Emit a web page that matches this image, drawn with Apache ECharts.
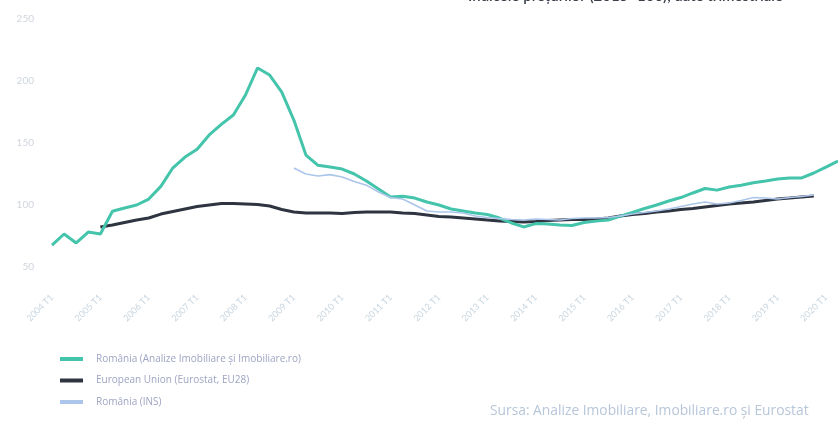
<!DOCTYPE html>
<html>
<head>
<meta charset="utf-8">
<script src="https://cdn.jsdelivr.net/npm/echarts@6/dist/echarts.min.js"></script>
<style>
html,body{margin:0;padding:0;background:#fff;}
#chart{width:838px;height:421px;}
</style>
</head>
<body>
<div id="chart"></div>
<script>
// Quarterly categories 2004 T1 .. 2020 T2
const years = [];
for (let y = 2004; y <= 2020; y++) years.push(y);
const categories = [];
years.forEach(y => { ['T1','T2','T3','T4'].forEach(q => categories.push(y + ' ' + q)); });
categories.length = 66;

const yTicks = [50, 100, 150, 200, 250];

const romaniaAI = [67.7,76.6,69.4,78.2,76.6,95,97.6,100,104.8,115,130,138.7,145,156.5,165,172.6,
  188.7,210.5,204.8,191,168.5,140.3,132,130.6,129,125,119.4,113,106.5,107,105.6,102.4,100,96.8,95.2,
  93.5,92.3,89.5,85.5,82.3,85,84.7,83.9,83.5,85.9,87,87.9,91,94,97.2,100,103.2,106,109.7,113.3,112,
  114.5,116,118,119.4,121,121.8,121.8,125.8,130.6,135.5];

const euValues = [null,null,null,null,82.3,83.9,85.9,87.9,89.5,92.7,94.8,96.8,98.8,100,101.2,101.2,
  100.8,100.4,99.2,96.4,94.4,93.5,93.5,93.5,93.1,94,94.4,94.4,94.4,93.5,93.1,91.9,90.7,90.3,89.5,
  88.7,87.9,87.1,86.7,86.3,86.7,87.5,87.9,88.3,88.3,88.7,89.5,91.1,92.3,93.1,94.4,95.2,96.4,97.2,
  98.4,99.6,100.8,101.6,102.4,103.6,104.8,105.6,106.5,107.3,null,null];

const romaniaINS = [null,null,null,null,null,null,null,null,null,null,null,null,null,null,null,null,
  null,null,null,null,129.8,125,123.4,124.5,122.6,119,116,110.5,106,104.8,100,95.2,94.4,94.4,93.5,
  91.1,89.9,89.1,88.3,87.9,88.7,88.3,87.9,89.1,89.5,89.5,89.9,91.1,92.7,94,95.2,96.8,98.8,100.8,
  102.4,100.8,101.6,103.6,106,105.6,104.8,106,106.9,108.1,null,null];

const seriesNames = ['România (Analize Imobiliare și Imobiliare.ro)', 'European Union (Eurostat, EU28)', 'România (INS)'];

const chart = echarts.init(document.getElementById('chart'));
chart.setOption({
  animation: false,
  backgroundColor: '#ffffff',
  textStyle: { fontFamily: 'Lato, "Open Sans", sans-serif' },
  title: {
    text: 'Indicele prețurilor (2015=100), date trimestriale',
    left: 463, top: -16,
    textStyle: { fontSize: 15, fontWeight: 600, color: '#3a3f4a', fontFamily: 'Lato, sans-serif' }
  },
  grid: { left: 52, top: 19, width: 790, height: 248, containLabel: false },
  xAxis: {
    type: 'category',
    data: categories,
    boundaryGap: false,
    axisLine: { show: false },
    axisTick: { show: false },
    splitLine: { show: false },
    axisLabel: { interval: 3, rotate: 45, margin: 29, fontSize: 9, color: '#c9d6e0' }
  },
  yAxis: {
    type: 'value',
    min: 50, max: 250, interval: 50,
    axisLine: { show: false },
    axisTick: { show: false },
    splitLine: { show: false },
    axisLabel: { margin: 18, fontSize: 10, color: '#d0d5de',
      formatter: v => yTicks.includes(v) ? String(v) : '' }
  },
  legend: {
    orient: 'vertical', left: 55, top: 349, height: 90,
    itemWidth: 23, itemHeight: 4, itemGap: 11.5,
    icon: 'rect',
    textStyle: { fontSize: 10, color: '#9ea4c2', padding: [0,0,0,8], fontFamily: '"Open Sans", sans-serif' },
    data: seriesNames
  },
  graphic: [{
    type: 'text', left: 490, top: 404,
    style: { text: 'Sursa: Analize Imobiliare, Imobiliare.ro și Eurostat', fontSize: 13.8,
      fill: '#b7c6d8', fontFamily: '"Open Sans", sans-serif' }
  }],
  series: [
    { name: seriesNames[0], type: 'line', data: romaniaAI, symbol: 'none', z: 3,
      lineStyle: { color: '#43c4ab', width: 3 }, itemStyle: { color: '#43c4ab' } },
    { name: seriesNames[1], type: 'line', data: euValues, symbol: 'none', z: 2,
      lineStyle: { color: '#2f3441', width: 3 }, itemStyle: { color: '#2f3441' } },
    { name: seriesNames[2], type: 'line', data: romaniaINS, symbol: 'none', z: 4,
      lineStyle: { color: '#abc6ea', width: 1.6 }, itemStyle: { color: '#abc6ea' } }
  ]
});
</script>
</body>
</html>
